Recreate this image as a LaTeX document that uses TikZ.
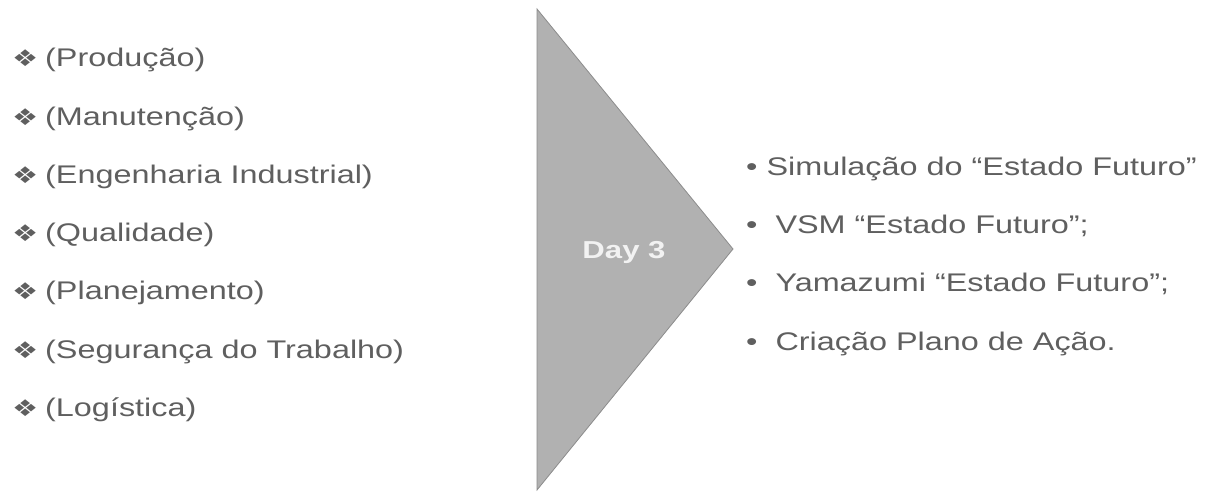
\documentclass[tikz,border=0pt]{standalone}
\usepackage{fontspec}
\setmainfont{Liberation Sans}[FakeStretch=1.27]
\newfontfamily\symfont{DejaVu Sans}[FakeStretch=1.27]
\usetikzlibrary{positioning}

\definecolor{txtgray}{HTML}{5F5F5F}
\definecolor{trifill}{HTML}{B1B1B1}
\definecolor{triline}{HTML}{8C8C8C}
\definecolor{daytext}{HTML}{F2F2F2}

\tikzset{
  item/.style={anchor=base west, inner sep=0pt, text=txtgray, font=\fontsize{25.5}{30}\selectfont},
  daylabel/.style={anchor=base, inner sep=0pt, text=daytext, font=\fontsize{24.5}{30}\selectfont\bfseries},
  arrowtri/.style={fill=trifill, draw=triline, line width=0.8pt}
}
\newcommand{\dia}{\makebox[33pt][l]{\raisebox{0pt}{\symfont\fontsize{23}{24}\selectfont ❖}}}

\begin{document}
\begin{tikzpicture}[x=1pt, y=-1pt]
\useasboundingbox (0,0) rectangle (1211,491);
% big arrow
\draw[arrowtri] (537,9) -- (733,249) -- (537,490) -- cycle;
\node[daylabel] (day) at (624,258.3) {Day 3};
% left list
\foreach \txt [count=\i] in {(Produção), (Manutenção), (Engenharia Industrial), (Qualidade), (Planejamento), (Segurança do Trabalho), (Logística)}
  \node[item] (l\i) at (12, {66.7+58.3*(\i-1)}) {\dia\txt};
% right list
\node[item] (r1) at (746,175)   {• Simulação do “Estado Futuro”};
\node[item] (r2) at (746,233.3) {•\hspace*{18pt}VSM “Estado Futuro”;};
\node[item] (r3) at (746,291.6) {•\hspace*{18pt}Yamazumi “Estado Futuro”;};
\node[item] (r4) at (746,350)   {•\hspace*{18pt}Criação Plano de Ação.};
\end{tikzpicture}
\end{document}
